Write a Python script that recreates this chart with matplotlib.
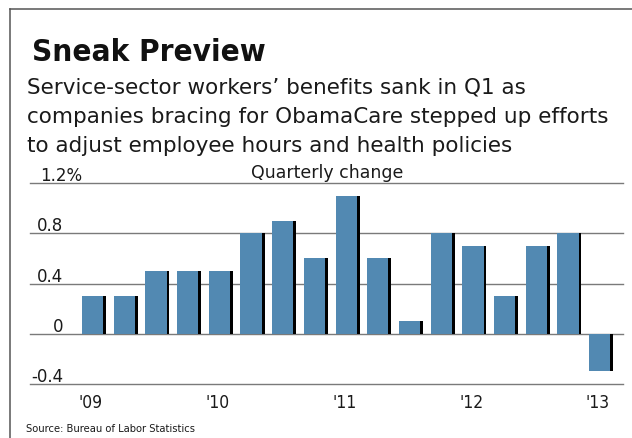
import matplotlib
matplotlib.use('Agg')
import matplotlib.pyplot as plt
from matplotlib.lines import Line2D

# quarterly change, 2009 Q1 .. 2013 Q1
quarters = ['09Q1', '09Q2', '09Q3', '09Q4', '10Q1', '10Q2', '10Q3', '10Q4',
            '11Q1', '11Q2', '11Q3', '11Q4', '12Q1', '12Q2', '12Q3', '12Q4', '13Q1']
values = [0.3, 0.3, 0.5, 0.5, 0.5, 0.8, 0.9, 0.6,
          1.1, 0.6, 0.1, 0.8, 0.7, 0.3, 0.7, 0.8, -0.3]
year_labels = ["'09", "'10", "'11", "'12", "'13"]
year_pos = [0, 4, 8, 12, 16]
y_ticks = [1.2, 0.8, 0.4, 0, -0.4]
y_labels = ['1.2', '0.8', '0.4', '0', '-0.4']

W, H = 632, 439
BLUE = '#5289b2'
GRID = '#7a7a7a'
TXT = '#1a1a1a'

fig = plt.figure(figsize=(W / 100, H / 100), dpi=100)


def px(x, y):
    # pixel coords (top-left origin) -> figure fraction
    return x / W, 1 - y / H


# frame
fig.add_artist(Line2D([9.5 / W, 9.5 / W], [0, 1 - 9.5 / H], color='#555555', lw=1.1))
fig.add_artist(Line2D([9.5 / W, 1], [1 - 9.5 / H, 1 - 9.5 / H], color='#555555', lw=1.1))

# title + subtitle
fig.text(*px(32, 61), 'Sneak Preview', fontsize=22.5, fontweight='bold',
         fontstretch='condensed', family='DejaVu Sans', va='baseline', color='#111111')
subtitle = ['Service-sector workers\u2019 benefits sank in Q1 as',
            'companies bracing for ObamaCare stepped up efforts',
            'to adjust employee hours and health policies']
for i, line in enumerate(subtitle):
    fig.text(*px(27, 94 + 29 * i), line, fontsize=15.5,
             family='DejaVu Sans', va='baseline', color=TXT)

# axes
left, right, top, bottom = 30, 623, 184, 385
ax = fig.add_axes([left / W, 1 - bottom / H, (right - left) / W, (bottom - top) / H])
ax.set_ylim(-0.4, 1.2)
ax.set_xlim(-2.02, 16.69)
ax.axis('off')

for t in y_ticks:
    ax.axhline(t, color=GRID, lw=1.0, zorder=1, clip_on=False)

xs = range(len(values))
ax.bar([x - 0.38 for x in xs], values, width=0.67, align='edge', color=BLUE,
       edgecolor='none', zorder=2)
ax.bar([x + 0.29 for x in xs], values, width=0.09, align='edge', color='black',
       edgecolor='none', zorder=2)

# y labels
for t, lab in zip(y_ticks, y_labels):
    _, yf = ax.transData.transform((0, t))
    if lab == '1.2':
        fig.text(40 / W, yf / H + 3 / H, lab + '%', fontsize=12, ha='left',
                 va='baseline', color=TXT)
    else:
        fig.text(63 / W, yf / H + 3 / H, lab, fontsize=12, ha='right',
                 va='baseline', color=TXT)

fig.text(*px(327, 178), 'Quarterly change', fontsize=12.5, ha='center', va='baseline',
         color=TXT)

# year labels
for p, lab in zip(year_pos, year_labels):
    xf, _ = ax.transData.transform((p - 0.1, 0))
    fig.text(xf / W, 1 - 408 / H, lab, fontsize=12.5, ha='center',
             va='baseline', fontstretch='condensed', color=TXT)

fig.text(*px(26, 432), 'Source: Bureau of Labor Statistics', fontsize=8,
         fontstretch='condensed', va='baseline', color=TXT)

fig.savefig('out.png', dpi=100)
